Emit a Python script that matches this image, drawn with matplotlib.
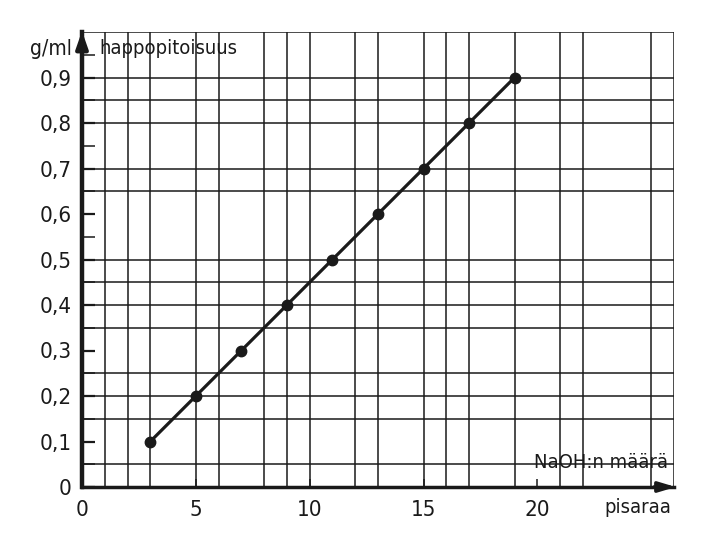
import matplotlib.pyplot as plt

# pisaraa (drops) vs happopitoisuus (g/ml)
drops = [3, 5, 7, 9, 11, 13, 15, 17, 19]
acid = [0.1, 0.2, 0.3, 0.4, 0.5, 0.6, 0.7, 0.8, 0.9]

x_ticks = [0, 5, 10, 15, 20]
y_ticks = [0, 0.1, 0.2, 0.3, 0.4, 0.5, 0.6, 0.7, 0.8, 0.9]
y_labels = ['0', '0,1', '0,2', '0,3', '0,4', '0,5', '0,6', '0,7', '0,8', '0,9']

# grid lines that are actually visible in the scanned picture
grid_x = [1, 2, 3, 5, 6, 8, 9, 10, 12, 13, 15, 16, 17, 19, 21, 22, 25, 26]
grid_y = [0.05, 0.15, 0.2, 0.25, 0.35, 0.4, 0.45, 0.5, 0.65, 0.7, 0.8, 0.85, 0.9, 1.0]

plt.rcParams['font.family'] = ['DejaVu Sans']
plt.rcParams['font.stretch'] = 'condensed'
ink = '#1a1a1a'

fig = plt.figure(figsize=(7.2, 5.4), dpi=100)
ax = fig.add_axes([82 / 720, 53 / 540, 592 / 720, 455 / 540])
ax.set_xlim(0, 26)
ax.set_ylim(0, 1.0)

for gx in grid_x:
    ax.axvline(gx, color=ink, lw=1.1, zorder=1)
for gy in grid_y:
    ax.axhline(gy, color=ink, lw=1.1, zorder=1)

ax.plot(drops, acid, color=ink, lw=2.3, marker='o', ms=7.5, zorder=3)

for s in ['top', 'right']:
    ax.spines[s].set_visible(False)
ax.spines['left'].set_linewidth(3.2)
ax.spines['bottom'].set_linewidth(2.5)
ax.spines['left'].set_color(ink)
ax.spines['bottom'].set_color(ink)

# axis arrows
ax.annotate('', xy=(0, 1.008), xytext=(0, 0.95), annotation_clip=False,
            arrowprops=dict(arrowstyle='-|>,head_length=1.0,head_width=0.35',
                            color=ink, lw=3))
ax.annotate('', xy=(26.2, 0), xytext=(25, 0), annotation_clip=False,
            arrowprops=dict(arrowstyle='-|>,head_length=1.0,head_width=0.3',
                            color=ink, lw=2.5))

ax.set_xticks(x_ticks)
ax.set_xticklabels([str(v) for v in x_ticks])
ax.set_yticks(y_ticks)
ax.set_yticklabels(y_labels)
ax.set_yticks([0.05 + 0.1 * i for i in range(10)], minor=True)
ax.tick_params(axis='y', which='major', direction='in', length=9.5, width=1.6,
               pad=7.5, labelsize=16, colors=ink)
ax.tick_params(axis='y', which='minor', direction='in', length=9.5, width=1.1,
               colors=ink)
ax.tick_params(axis='x', direction='in', length=6, width=1.1, pad=9,
               labelsize=16, colors=ink)

ax.text(-0.45, 0.963, 'g/ml', ha='right', va='center', fontsize=15, color=ink,
        clip_on=False)
ax.text(0.75, 0.963, 'happopitoisuus', ha='left', va='center', fontsize=14.5,
        color=ink, clip_on=False)
ax.text(25.75, 0.053, 'NaOH:n määrä', ha='right', va='center', fontsize=14.5,
        color=ink, clip_on=False)
ax.text(25.9, -0.046, 'pisaraa', ha='right', va='center', fontsize=14.5,
        color=ink, clip_on=False)

fig.savefig('out.png', dpi=100)
